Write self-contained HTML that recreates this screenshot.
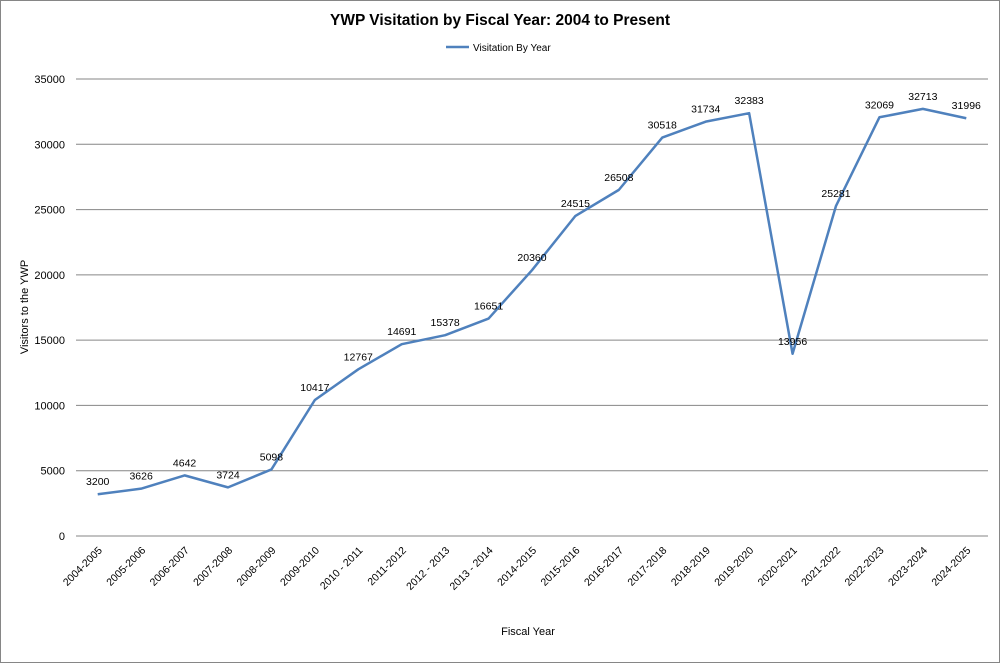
<!DOCTYPE html>
<html><head><meta charset="utf-8"><style>
body{margin:0;background:#fff;}
svg{display:block;font-family:"Liberation Sans",Arial,sans-serif;}
</style></head><body>
<svg id="chart" width="1000" height="663">
<rect x="0.5" y="0.5" width="999" height="662" fill="#fff" stroke="#868686"/>
<text x="500" y="25" text-anchor="middle" font-size="16" font-weight="bold" fill="#000" textLength="340" lengthAdjust="spacingAndGlyphs">YWP Visitation by Fiscal Year: 2004 to Present</text>
<g>
<line x1="446" y1="47" x2="469" y2="47" stroke="#4f81bd" stroke-width="2.5"/>
<text x="473" y="51" font-size="10" fill="#000">Visitation By Year</text>
</g>
<g id="grid"></g><g id="yticks"></g><g id="xticks"></g>
<polyline id="series" fill="none" stroke="#4f81bd" stroke-width="2.5" stroke-linejoin="round"/>
<g id="labels"></g>
<text transform="translate(28,307) rotate(-90)" text-anchor="middle" font-size="11">Visitors to the YWP</text>
<text x="528" y="635" text-anchor="middle" font-size="11">Fiscal Year</text>
</svg>
<script>
const categories=["2004-2005","2005-2006","2006-2007","2007-2008","2008-2009","2009-2010","2010 - 2011","2011-2012","2012 - 2013","2013 - 2014","2014-2015","2015-2016","2016-2017","2017-2018","2018-2019","2019-2020","2020-2021","2021-2022","2022-2023","2023-2024","2024-2025"];
const values=[3200,3626,4642,3724,5098,10417,12767,14691,15378,16651,20360,24515,26508,30518,31734,32383,13956,25281,32069,32713,31996];
const yTicks=[0,5000,10000,15000,20000,25000,30000,35000];
const NS="http://www.w3.org/2000/svg";
const L=76,R=988,T=79,B=536,YMAX=35000;
const bw=(R-L)/categories.length;
const x=i=>L+bw*(i+0.5);
const y=v=>B-(v/YMAX)*(B-T);
function mk(t,a,p){const e=document.createElementNS(NS,t);for(const k in a)e.setAttribute(k,a[k]);p.appendChild(e);return e;}
const grid=document.getElementById('grid'),yt=document.getElementById('yticks'),xt=document.getElementById('xticks'),lb=document.getElementById('labels');
yTicks.forEach(v=>{
 const g=mk('line',{x1:L,x2:R,y1:y(v),y2:y(v),stroke:'#868686','stroke-width':1},grid);
 
 
 const t=mk('text',{x:65,y:y(v)+4,'text-anchor':'end','font-size':11},yt);t.textContent=v;
 
 
});
categories.forEach((c,i)=>{
 const t=mk('text',{transform:`translate(${x(i)+5},${B+15}) rotate(-45)`,'text-anchor':'end','font-size':10.5},xt);t.textContent=c;
 
 
});
document.getElementById('series').setAttribute('points',values.map((v,i)=>x(i)+','+y(v)).join(' '));
values.forEach((v,i)=>{
 const t=mk('text',{x:x(i),y:y(v)-9,'text-anchor':'middle','font-size':10.5},lb);t.textContent=v;
 
 
});
</script>
</body></html>
